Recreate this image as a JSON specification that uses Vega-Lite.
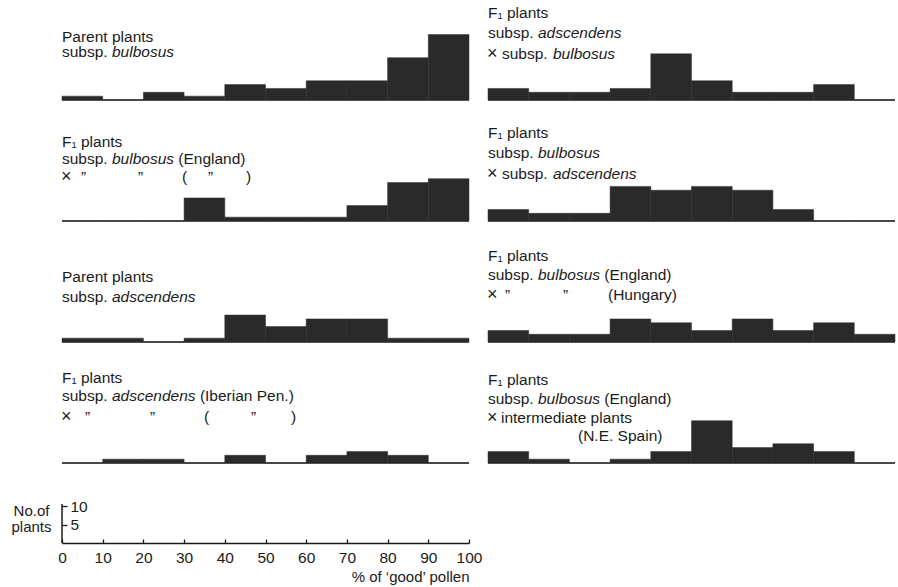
{
  "$schema": "https://vega.github.io/schema/vega-lite/v6.json",
  "padding": {"left": 10, "right": 0, "top": 0, "bottom": 0},
  "background": "white",
  "config": {
    "view": {"stroke": null},
    "text": {"font": "Liberation Sans", "fontSize": 15.5, "color": "#1a1a1a", "align": "left", "baseline": "middle"},
    "axis": {"labelFont": "Liberation Sans", "labelFontSize": 15.5, "labelColor": "#1a1a1a", "titleFont": "Liberation Sans", "titleFontSize": 15, "titleFontWeight": "normal", "titleColor": "#1a1a1a", "domainColor": "#1a1a1a", "tickColor": "#1a1a1a", "domainWidth": 1.5, "tickWidth": 1.3, "grid": false}
  },
  "datasets": {
    "hist": [
      {"p": "P1", "x0": 0, "x1": 10, "n": 1}, {"p": "P1", "x0": 10, "x1": 20, "n": 0}, {"p": "P1", "x0": 20, "x1": 30, "n": 2}, {"p": "P1", "x0": 30, "x1": 40, "n": 1}, {"p": "P1", "x0": 40, "x1": 50, "n": 4}, {"p": "P1", "x0": 50, "x1": 60, "n": 3}, {"p": "P1", "x0": 60, "x1": 70, "n": 5}, {"p": "P1", "x0": 70, "x1": 80, "n": 5}, {"p": "P1", "x0": 80, "x1": 90, "n": 11}, {"p": "P1", "x0": 90, "x1": 100, "n": 17},
      {"p": "P2", "x0": 0, "x1": 10, "n": 3}, {"p": "P2", "x0": 10, "x1": 20, "n": 2}, {"p": "P2", "x0": 20, "x1": 30, "n": 2}, {"p": "P2", "x0": 30, "x1": 40, "n": 3}, {"p": "P2", "x0": 40, "x1": 50, "n": 12}, {"p": "P2", "x0": 50, "x1": 60, "n": 5}, {"p": "P2", "x0": 60, "x1": 70, "n": 2}, {"p": "P2", "x0": 70, "x1": 80, "n": 2}, {"p": "P2", "x0": 80, "x1": 90, "n": 4}, {"p": "P2", "x0": 90, "x1": 100, "n": 0},
      {"p": "P3", "x0": 0, "x1": 10, "n": 0}, {"p": "P3", "x0": 10, "x1": 20, "n": 0}, {"p": "P3", "x0": 20, "x1": 30, "n": 0}, {"p": "P3", "x0": 30, "x1": 40, "n": 6}, {"p": "P3", "x0": 40, "x1": 50, "n": 1}, {"p": "P3", "x0": 50, "x1": 60, "n": 1}, {"p": "P3", "x0": 60, "x1": 70, "n": 1}, {"p": "P3", "x0": 70, "x1": 80, "n": 4}, {"p": "P3", "x0": 80, "x1": 90, "n": 10}, {"p": "P3", "x0": 90, "x1": 100, "n": 11},
      {"p": "P4", "x0": 0, "x1": 10, "n": 3}, {"p": "P4", "x0": 10, "x1": 20, "n": 2}, {"p": "P4", "x0": 20, "x1": 30, "n": 2}, {"p": "P4", "x0": 30, "x1": 40, "n": 9}, {"p": "P4", "x0": 40, "x1": 50, "n": 8}, {"p": "P4", "x0": 50, "x1": 60, "n": 9}, {"p": "P4", "x0": 60, "x1": 70, "n": 8}, {"p": "P4", "x0": 70, "x1": 80, "n": 3}, {"p": "P4", "x0": 80, "x1": 90, "n": 0}, {"p": "P4", "x0": 90, "x1": 100, "n": 0},
      {"p": "P5", "x0": 0, "x1": 10, "n": 1}, {"p": "P5", "x0": 10, "x1": 20, "n": 1}, {"p": "P5", "x0": 20, "x1": 30, "n": 0}, {"p": "P5", "x0": 30, "x1": 40, "n": 1}, {"p": "P5", "x0": 40, "x1": 50, "n": 7}, {"p": "P5", "x0": 50, "x1": 60, "n": 4}, {"p": "P5", "x0": 60, "x1": 70, "n": 6}, {"p": "P5", "x0": 70, "x1": 80, "n": 6}, {"p": "P5", "x0": 80, "x1": 90, "n": 1}, {"p": "P5", "x0": 90, "x1": 100, "n": 1},
      {"p": "P6", "x0": 0, "x1": 10, "n": 3}, {"p": "P6", "x0": 10, "x1": 20, "n": 2}, {"p": "P6", "x0": 20, "x1": 30, "n": 2}, {"p": "P6", "x0": 30, "x1": 40, "n": 6}, {"p": "P6", "x0": 40, "x1": 50, "n": 5}, {"p": "P6", "x0": 50, "x1": 60, "n": 3}, {"p": "P6", "x0": 60, "x1": 70, "n": 6}, {"p": "P6", "x0": 70, "x1": 80, "n": 3}, {"p": "P6", "x0": 80, "x1": 90, "n": 5}, {"p": "P6", "x0": 90, "x1": 100, "n": 2},
      {"p": "P7", "x0": 0, "x1": 10, "n": 0}, {"p": "P7", "x0": 10, "x1": 20, "n": 1}, {"p": "P7", "x0": 20, "x1": 30, "n": 1}, {"p": "P7", "x0": 30, "x1": 40, "n": 0}, {"p": "P7", "x0": 40, "x1": 50, "n": 2}, {"p": "P7", "x0": 50, "x1": 60, "n": 0}, {"p": "P7", "x0": 60, "x1": 70, "n": 2}, {"p": "P7", "x0": 70, "x1": 80, "n": 3}, {"p": "P7", "x0": 80, "x1": 90, "n": 2}, {"p": "P7", "x0": 90, "x1": 100, "n": 0},
      {"p": "P8", "x0": 0, "x1": 10, "n": 3}, {"p": "P8", "x0": 10, "x1": 20, "n": 1}, {"p": "P8", "x0": 20, "x1": 30, "n": 0}, {"p": "P8", "x0": 30, "x1": 40, "n": 1}, {"p": "P8", "x0": 40, "x1": 50, "n": 3}, {"p": "P8", "x0": 50, "x1": 60, "n": 11}, {"p": "P8", "x0": 60, "x1": 70, "n": 4}, {"p": "P8", "x0": 70, "x1": 80, "n": 5}, {"p": "P8", "x0": 80, "x1": 90, "n": 3}, {"p": "P8", "x0": 90, "x1": 100, "n": 0}
    ]
  },
  "bounds": "flush",
  "columns": 2,
  "spacing": {"row": 21, "column": 19},
  "concat": [
    {"width": 407, "height": 100, "layer": [
      {"data": {"name": "hist"}, "transform": [{"filter": "datum.p == 'P1'"}], "mark": {"type": "bar", "color": "#2a2a2a", "stroke": "#2a2a2a", "strokeWidth": 0.5}, "encoding": {"x": {"field": "x0", "type": "quantitative", "scale": {"domain": [0, 100]}, "axis": null}, "x2": {"field": "x1"}, "y": {"field": "n", "type": "quantitative", "stack": null, "scale": {"domain": [0, 26]}, "axis": null}, "y2": {"datum": 0}}},
      {"data": {"name": "hist"}, "transform": [{"filter": "datum.p == 'P1'"}], "mark": {"type": "rule", "color": "#2a2a2a", "strokeWidth": 1.5}, "encoding": {"x": {"aggregate": "min", "field": "x0", "type": "quantitative"}, "x2": {"aggregate": "max", "field": "x1"}, "y": {"datum": 0}}},
      {"data": {"values": [{"t": "Parent plants"}]}, "mark": {"type": "text"}, "encoding": {"text": {"field": "t"}, "x": {"datum": 0}, "y": {"datum": 16.5}}},
      {"data": {"values": [{"t": "subsp."}]}, "mark": {"type": "text"}, "encoding": {"text": {"field": "t"}, "x": {"datum": 0}, "y": {"datum": 12.4}}},
      {"data": {"values": [{"t": "bulbosus"}]}, "mark": {"type": "text", "fontStyle": "italic", "dx": 50}, "encoding": {"text": {"field": "t"}, "x": {"datum": 0}, "y": {"datum": 12.4}}}
    ]},
    {"width": 407, "height": 100, "layer": [
      {"data": {"name": "hist"}, "transform": [{"filter": "datum.p == 'P2'"}], "mark": {"type": "bar", "color": "#2a2a2a", "stroke": "#2a2a2a", "strokeWidth": 0.5}, "encoding": {"x": {"field": "x0", "type": "quantitative", "scale": {"domain": [0, 100]}, "axis": null}, "x2": {"field": "x1"}, "y": {"field": "n", "type": "quantitative", "stack": null, "scale": {"domain": [0, 26]}, "axis": null}, "y2": {"datum": 0}}},
      {"data": {"name": "hist"}, "transform": [{"filter": "datum.p == 'P2'"}], "mark": {"type": "rule", "color": "#2a2a2a", "strokeWidth": 1.5}, "encoding": {"x": {"aggregate": "min", "field": "x0", "type": "quantitative"}, "x2": {"aggregate": "max", "field": "x1"}, "y": {"datum": 0}}},
      {"data": {"values": [{"t": "F₁ plants"}]}, "mark": {"type": "text"}, "encoding": {"text": {"field": "t"}, "x": {"datum": 0}, "y": {"datum": 22.5}}},
      {"data": {"values": [{"t": "subsp."}]}, "mark": {"type": "text"}, "encoding": {"text": {"field": "t"}, "x": {"datum": 0}, "y": {"datum": 17.5}}},
      {"data": {"values": [{"t": "adscendens"}]}, "mark": {"type": "text", "fontStyle": "italic", "dx": 50}, "encoding": {"text": {"field": "t"}, "x": {"datum": 0}, "y": {"datum": 17.5}}},
      {"data": {"values": [{"t": "×"}]}, "mark": {"type": "text", "fontSize": 18, "dx": -1}, "encoding": {"text": {"field": "t"}, "x": {"datum": 0}, "y": {"datum": 12}}},
      {"data": {"values": [{"t": "subsp."}]}, "mark": {"type": "text", "dx": 14}, "encoding": {"text": {"field": "t"}, "x": {"datum": 0}, "y": {"datum": 12}}},
      {"data": {"values": [{"t": "bulbosus"}]}, "mark": {"type": "text", "fontStyle": "italic", "dx": 65}, "encoding": {"text": {"field": "t"}, "x": {"datum": 0}, "y": {"datum": 12}}}
    ]},
    {"width": 407, "height": 100, "layer": [
      {"data": {"name": "hist"}, "transform": [{"filter": "datum.p == 'P3'"}], "mark": {"type": "bar", "color": "#2a2a2a", "stroke": "#2a2a2a", "strokeWidth": 0.5}, "encoding": {"x": {"field": "x0", "type": "quantitative", "scale": {"domain": [0, 100]}, "axis": null}, "x2": {"field": "x1"}, "y": {"field": "n", "type": "quantitative", "stack": null, "scale": {"domain": [0, 26]}, "axis": null}, "y2": {"datum": 0}}},
      {"data": {"name": "hist"}, "transform": [{"filter": "datum.p == 'P3'"}], "mark": {"type": "rule", "color": "#2a2a2a", "strokeWidth": 1.5}, "encoding": {"x": {"aggregate": "min", "field": "x0", "type": "quantitative"}, "x2": {"aggregate": "max", "field": "x1"}, "y": {"datum": 0}}},
      {"data": {"values": [{"t": "F₁ plants"}]}, "mark": {"type": "text"}, "encoding": {"text": {"field": "t"}, "x": {"datum": 0}, "y": {"datum": 20.5}}},
      {"data": {"values": [{"t": "subsp."}]}, "mark": {"type": "text"}, "encoding": {"text": {"field": "t"}, "x": {"datum": 0}, "y": {"datum": 16.2}}},
      {"data": {"values": [{"t": "bulbosus"}]}, "mark": {"type": "text", "fontStyle": "italic", "dx": 50}, "encoding": {"text": {"field": "t"}, "x": {"datum": 0}, "y": {"datum": 16.2}}},
      {"data": {"values": [{"t": "(England)"}]}, "mark": {"type": "text", "dx": 116.3}, "encoding": {"text": {"field": "t"}, "x": {"datum": 0}, "y": {"datum": 16.2}}},
      {"data": {"values": [{"t": "×"}]}, "mark": {"type": "text", "fontSize": 18, "dx": -1}, "encoding": {"text": {"field": "t"}, "x": {"datum": 0}, "y": {"datum": 11.4}}},
      {"data": {"values": [{"t": "”"}]}, "mark": {"type": "text", "dx": 19}, "encoding": {"text": {"field": "t"}, "x": {"datum": 0}, "y": {"datum": 11.4}}},
      {"data": {"values": [{"t": "”"}]}, "mark": {"type": "text", "dx": 76}, "encoding": {"text": {"field": "t"}, "x": {"datum": 0}, "y": {"datum": 11.4}}},
      {"data": {"values": [{"t": "("}]}, "mark": {"type": "text", "dx": 120}, "encoding": {"text": {"field": "t"}, "x": {"datum": 0}, "y": {"datum": 11.4}}},
      {"data": {"values": [{"t": "”"}]}, "mark": {"type": "text", "dx": 146}, "encoding": {"text": {"field": "t"}, "x": {"datum": 0}, "y": {"datum": 11.4}}},
      {"data": {"values": [{"t": ")"}]}, "mark": {"type": "text", "dx": 184}, "encoding": {"text": {"field": "t"}, "x": {"datum": 0}, "y": {"datum": 11.4}}}
    ]},
    {"width": 407, "height": 100, "layer": [
      {"data": {"name": "hist"}, "transform": [{"filter": "datum.p == 'P4'"}], "mark": {"type": "bar", "color": "#2a2a2a", "stroke": "#2a2a2a", "strokeWidth": 0.5}, "encoding": {"x": {"field": "x0", "type": "quantitative", "scale": {"domain": [0, 100]}, "axis": null}, "x2": {"field": "x1"}, "y": {"field": "n", "type": "quantitative", "stack": null, "scale": {"domain": [0, 26]}, "axis": null}, "y2": {"datum": 0}}},
      {"data": {"name": "hist"}, "transform": [{"filter": "datum.p == 'P4'"}], "mark": {"type": "rule", "color": "#2a2a2a", "strokeWidth": 1.5}, "encoding": {"x": {"aggregate": "min", "field": "x0", "type": "quantitative"}, "x2": {"aggregate": "max", "field": "x1"}, "y": {"datum": 0}}},
      {"data": {"values": [{"t": "F₁ plants"}]}, "mark": {"type": "text"}, "encoding": {"text": {"field": "t"}, "x": {"datum": 0}, "y": {"datum": 22.8}}},
      {"data": {"values": [{"t": "subsp."}]}, "mark": {"type": "text"}, "encoding": {"text": {"field": "t"}, "x": {"datum": 0}, "y": {"datum": 17.6}}},
      {"data": {"values": [{"t": "bulbosus"}]}, "mark": {"type": "text", "fontStyle": "italic", "dx": 50}, "encoding": {"text": {"field": "t"}, "x": {"datum": 0}, "y": {"datum": 17.6}}},
      {"data": {"values": [{"t": "×"}]}, "mark": {"type": "text", "fontSize": 18, "dx": -1}, "encoding": {"text": {"field": "t"}, "x": {"datum": 0}, "y": {"datum": 12.3}}},
      {"data": {"values": [{"t": "subsp."}]}, "mark": {"type": "text", "dx": 14}, "encoding": {"text": {"field": "t"}, "x": {"datum": 0}, "y": {"datum": 12.3}}},
      {"data": {"values": [{"t": "adscendens"}]}, "mark": {"type": "text", "fontStyle": "italic", "dx": 65}, "encoding": {"text": {"field": "t"}, "x": {"datum": 0}, "y": {"datum": 12.3}}}
    ]},
    {"width": 407, "height": 100, "layer": [
      {"data": {"name": "hist"}, "transform": [{"filter": "datum.p == 'P5'"}], "mark": {"type": "bar", "color": "#2a2a2a", "stroke": "#2a2a2a", "strokeWidth": 0.5}, "encoding": {"x": {"field": "x0", "type": "quantitative", "scale": {"domain": [0, 100]}, "axis": null}, "x2": {"field": "x1"}, "y": {"field": "n", "type": "quantitative", "stack": null, "scale": {"domain": [0, 26]}, "axis": null}, "y2": {"datum": 0}}},
      {"data": {"name": "hist"}, "transform": [{"filter": "datum.p == 'P5'"}], "mark": {"type": "rule", "color": "#2a2a2a", "strokeWidth": 1.5}, "encoding": {"x": {"aggregate": "min", "field": "x0", "type": "quantitative"}, "x2": {"aggregate": "max", "field": "x1"}, "y": {"datum": 0}}},
      {"data": {"values": [{"t": "Parent plants"}]}, "mark": {"type": "text"}, "encoding": {"text": {"field": "t"}, "x": {"datum": 0}, "y": {"datum": 16.9}}},
      {"data": {"values": [{"t": "subsp."}]}, "mark": {"type": "text"}, "encoding": {"text": {"field": "t"}, "x": {"datum": 0}, "y": {"datum": 11.7}}},
      {"data": {"values": [{"t": "adscendens"}]}, "mark": {"type": "text", "fontStyle": "italic", "dx": 50}, "encoding": {"text": {"field": "t"}, "x": {"datum": 0}, "y": {"datum": 11.7}}}
    ]},
    {"width": 407, "height": 100, "layer": [
      {"data": {"name": "hist"}, "transform": [{"filter": "datum.p == 'P6'"}], "mark": {"type": "bar", "color": "#2a2a2a", "stroke": "#2a2a2a", "strokeWidth": 0.5}, "encoding": {"x": {"field": "x0", "type": "quantitative", "scale": {"domain": [0, 100]}, "axis": null}, "x2": {"field": "x1"}, "y": {"field": "n", "type": "quantitative", "stack": null, "scale": {"domain": [0, 26]}, "axis": null}, "y2": {"datum": 0}}},
      {"data": {"name": "hist"}, "transform": [{"filter": "datum.p == 'P6'"}], "mark": {"type": "rule", "color": "#2a2a2a", "strokeWidth": 1.5}, "encoding": {"x": {"aggregate": "min", "field": "x0", "type": "quantitative"}, "x2": {"aggregate": "max", "field": "x1"}, "y": {"datum": 0}}},
      {"data": {"values": [{"t": "F₁ plants"}]}, "mark": {"type": "text"}, "encoding": {"text": {"field": "t"}, "x": {"datum": 0}, "y": {"datum": 22.3}}},
      {"data": {"values": [{"t": "subsp."}]}, "mark": {"type": "text"}, "encoding": {"text": {"field": "t"}, "x": {"datum": 0}, "y": {"datum": 17.3}}},
      {"data": {"values": [{"t": "bulbosus"}]}, "mark": {"type": "text", "fontStyle": "italic", "dx": 50}, "encoding": {"text": {"field": "t"}, "x": {"datum": 0}, "y": {"datum": 17.3}}},
      {"data": {"values": [{"t": "(England)"}]}, "mark": {"type": "text", "dx": 116.3}, "encoding": {"text": {"field": "t"}, "x": {"datum": 0}, "y": {"datum": 17.3}}},
      {"data": {"values": [{"t": "×"}]}, "mark": {"type": "text", "fontSize": 18, "dx": -1}, "encoding": {"text": {"field": "t"}, "x": {"datum": 0}, "y": {"datum": 12.1}}},
      {"data": {"values": [{"t": "”"}]}, "mark": {"type": "text", "dx": 17}, "encoding": {"text": {"field": "t"}, "x": {"datum": 0}, "y": {"datum": 12.1}}},
      {"data": {"values": [{"t": "”"}]}, "mark": {"type": "text", "dx": 75}, "encoding": {"text": {"field": "t"}, "x": {"datum": 0}, "y": {"datum": 12.1}}},
      {"data": {"values": [{"t": "(Hungary)"}]}, "mark": {"type": "text", "dx": 120}, "encoding": {"text": {"field": "t"}, "x": {"datum": 0}, "y": {"datum": 12.1}}}
    ]},
    {"width": 407, "height": 100, "layer": [
      {"data": {"name": "hist"}, "transform": [{"filter": "datum.p == 'P7'"}], "mark": {"type": "bar", "color": "#2a2a2a", "stroke": "#2a2a2a", "strokeWidth": 0.5}, "encoding": {"x": {"field": "x0", "type": "quantitative", "scale": {"domain": [0, 100]}, "axis": null}, "x2": {"field": "x1"}, "y": {"field": "n", "type": "quantitative", "stack": null, "scale": {"domain": [0, 26]}, "axis": null}, "y2": {"datum": 0}}},
      {"data": {"name": "hist"}, "transform": [{"filter": "datum.p == 'P7'"}], "mark": {"type": "rule", "color": "#2a2a2a", "strokeWidth": 1.5}, "encoding": {"x": {"aggregate": "min", "field": "x0", "type": "quantitative"}, "x2": {"aggregate": "max", "field": "x1"}, "y": {"datum": 0}}},
      {"data": {"values": [{"t": "F₁ plants"}]}, "mark": {"type": "text"}, "encoding": {"text": {"field": "t"}, "x": {"datum": 0}, "y": {"datum": 22}}},
      {"data": {"values": [{"t": "subsp."}]}, "mark": {"type": "text"}, "encoding": {"text": {"field": "t"}, "x": {"datum": 0}, "y": {"datum": 17.3}}},
      {"data": {"values": [{"t": "adscendens"}]}, "mark": {"type": "text", "fontStyle": "italic", "dx": 50}, "encoding": {"text": {"field": "t"}, "x": {"datum": 0}, "y": {"datum": 17.3}}},
      {"data": {"values": [{"t": "(Iberian Pen.)"}]}, "mark": {"type": "text", "dx": 137.9}, "encoding": {"text": {"field": "t"}, "x": {"datum": 0}, "y": {"datum": 17.3}}},
      {"data": {"values": [{"t": "×"}]}, "mark": {"type": "text", "fontSize": 18, "dx": -1}, "encoding": {"text": {"field": "t"}, "x": {"datum": 0}, "y": {"datum": 12}}},
      {"data": {"values": [{"t": "”"}]}, "mark": {"type": "text", "dx": 23}, "encoding": {"text": {"field": "t"}, "x": {"datum": 0}, "y": {"datum": 12}}},
      {"data": {"values": [{"t": "”"}]}, "mark": {"type": "text", "dx": 88}, "encoding": {"text": {"field": "t"}, "x": {"datum": 0}, "y": {"datum": 12}}},
      {"data": {"values": [{"t": "("}]}, "mark": {"type": "text", "dx": 142}, "encoding": {"text": {"field": "t"}, "x": {"datum": 0}, "y": {"datum": 12}}},
      {"data": {"values": [{"t": "”"}]}, "mark": {"type": "text", "dx": 189}, "encoding": {"text": {"field": "t"}, "x": {"datum": 0}, "y": {"datum": 12}}},
      {"data": {"values": [{"t": ")"}]}, "mark": {"type": "text", "dx": 229}, "encoding": {"text": {"field": "t"}, "x": {"datum": 0}, "y": {"datum": 12}}}
    ]},
    {"width": 407, "height": 100, "layer": [
      {"data": {"name": "hist"}, "transform": [{"filter": "datum.p == 'P8'"}], "mark": {"type": "bar", "color": "#2a2a2a", "stroke": "#2a2a2a", "strokeWidth": 0.5}, "encoding": {"x": {"field": "x0", "type": "quantitative", "scale": {"domain": [0, 100]}, "axis": null}, "x2": {"field": "x1"}, "y": {"field": "n", "type": "quantitative", "stack": null, "scale": {"domain": [0, 26]}, "axis": null}, "y2": {"datum": 0}}},
      {"data": {"name": "hist"}, "transform": [{"filter": "datum.p == 'P8'"}], "mark": {"type": "rule", "color": "#2a2a2a", "strokeWidth": 1.5}, "encoding": {"x": {"aggregate": "min", "field": "x0", "type": "quantitative"}, "x2": {"aggregate": "max", "field": "x1"}, "y": {"datum": 0}}},
      {"data": {"values": [{"t": "F₁ plants"}]}, "mark": {"type": "text"}, "encoding": {"text": {"field": "t"}, "x": {"datum": 0}, "y": {"datum": 21.6}}},
      {"data": {"values": [{"t": "subsp."}]}, "mark": {"type": "text"}, "encoding": {"text": {"field": "t"}, "x": {"datum": 0}, "y": {"datum": 16.6}}},
      {"data": {"values": [{"t": "bulbosus"}]}, "mark": {"type": "text", "fontStyle": "italic", "dx": 50}, "encoding": {"text": {"field": "t"}, "x": {"datum": 0}, "y": {"datum": 16.6}}},
      {"data": {"values": [{"t": "(England)"}]}, "mark": {"type": "text", "dx": 116.3}, "encoding": {"text": {"field": "t"}, "x": {"datum": 0}, "y": {"datum": 16.6}}},
      {"data": {"values": [{"t": "×"}]}, "mark": {"type": "text", "fontSize": 18, "dx": -1}, "encoding": {"text": {"field": "t"}, "x": {"datum": 0}, "y": {"datum": 11.8}}},
      {"data": {"values": [{"t": "intermediate plants"}]}, "mark": {"type": "text", "dx": 13}, "encoding": {"text": {"field": "t"}, "x": {"datum": 0}, "y": {"datum": 11.8}}},
      {"data": {"values": [{"t": "(N.E. Spain)"}]}, "mark": {"type": "text", "dx": 90}, "encoding": {"text": {"field": "t"}, "x": {"datum": 0}, "y": {"datum": 7.1}}}
    ]},
    {"width": 407, "height": 59,
      "layer": [
        {"data": {"name": "hist"}, "mark": {"type": "point", "opacity": 0, "clip": true},
          "encoding": {
            "x": {"field": "x0", "type": "quantitative", "scale": {"domain": [0, 100]},
              "axis": {"values": [0, 10, 20, 30, 40, 50, 60, 70, 80, 90, 100], "tickSize": -4, "labelPadding": 11, "labelFlush": false, "title": "% of ‘good’ pollen", "titleAnchor": "end", "titleAlign": "right", "titlePadding": 4}},
            "y": {"field": "n", "type": "quantitative", "scale": {"domain": [0, 15.5]},
              "axis": {"values": [5, 10], "domain": false, "tickSize": -5, "labelPadding": -3, "labelAlign": "left", "labelBaseline": "middle", "title": ["No.of", "plants"], "titleAngle": 0, "titleAlign": "center", "titleBaseline": "middle", "titleX": -31, "titleY": 26, "titleLineHeight": 16}}
          }},
        {"data": {"name": "hist"}, "transform": [{"aggregate": [{"op": "min", "field": "n", "as": "lo"}]}], "mark": {"type": "rule", "color": "#1a1a1a", "strokeWidth": 1.5},
          "encoding": {"x": {"datum": 0}, "y": {"field": "lo", "type": "quantitative"}, "y2": {"datum": 10.6}}}
      ]
    }
  ]
}
